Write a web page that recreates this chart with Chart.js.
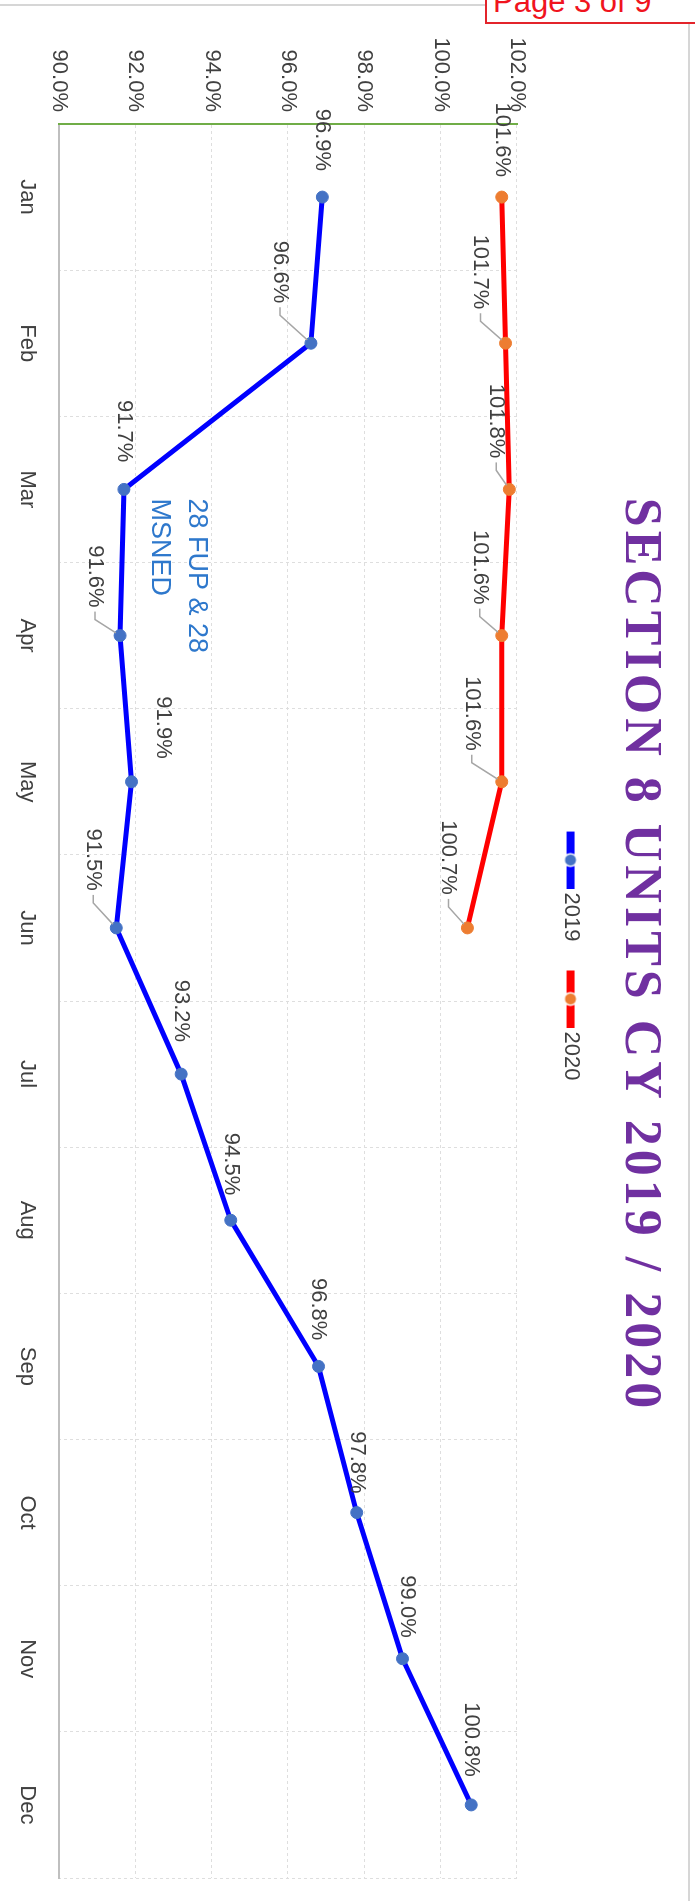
<!DOCTYPE html>
<html>
<head>
<meta charset="utf-8">
<title>Section 8 Units CY 2019 / 2020</title>
<script src="https://cdn.jsdelivr.net/npm/chart.js@4.4.1/dist/chart.umd.min.js"></script>
<style>
  html, body { margin: 0; padding: 0; background: #fff; }
  body { width: 695px; height: 1901px; position: relative; overflow: hidden; }
  /* the chart is laid out landscape and turned a quarter clockwise, like the scanned page */
  #turn { position: absolute; left: 0; top: 0; width: 1901px; height: 695px;
          transform-origin: 0 0; transform: translate(695px, 0) rotate(90deg); }
  #frameTop { position: absolute; left: 0; top: 4px; width: 690px; height: 2px; background: #d6d6d6; }
  #frameRight { position: absolute; left: 688px; top: 4px; width: 2px; height: 1897px; background: #d6d6d6; }
  #page { position: absolute; left: 485px; top: -20px; width: 240px; height: 40px;
          border: 2px solid #e3242b; background: #fff; color: #f0141e;
          font: 31px "Liberation Sans", Arial, sans-serif; line-height: 40px; padding-left: 6px; }
</style>
</head>
<body>
<div id="turn"><canvas id="chart" width="1901" height="695"></canvas></div>
<div id="frameTop"></div>
<div id="frameRight"></div>
<div id="page">Page 3 of 9</div>
<script>
var months = ['Jan', 'Feb', 'Mar', 'Apr', 'May', 'Jun', 'Jul', 'Aug', 'Sep', 'Oct', 'Nov', 'Dec'];
var seriesNames = ['2019', '2020'];
var rate2019 = [96.9, 96.6, 91.7, 91.6, 91.9, 91.5, 93.2, 94.5, 96.8, 97.8, 99.0, 100.8];
var rate2020 = [101.6, 101.7, 101.8, 101.6, 101.6, 100.7];
var valueTicks = [90, 92, 94, 96, 98, 100, 102];
var noteLines = ['28 FUP & 28', 'MSNED'];

// label placement: [px along months, px along %, leader line?] from each point
var labelPos2019 = [[-26, 0, 0], [-40, 31, 1], [-27, 0, 0], [-28, 25, 1], [-23, -32, 0], [-37, 23, 1],
                    [-32, 0, 0], [-25, 0, 0], [-26, 0, 0], [-19, 0, 0], [-21, -5, 0], [-28, 0, 0]];
var labelPos2020 = [[-20, 0, 0], [-34, 25, 1], [-31, 13, 1], [-31, 22, 1], [-31, 30, 1], [-33, 19, 1]];
var notePos = { month: 2, value: 93.6, dx: 9, gap: 37 };

var FONT = '"Liberation Sans", Arial, sans-serif';
Chart.defaults.font.family = FONT;
Chart.defaults.font.size = 22;
Chart.defaults.color = '#404040';

function legendMark(line, dot) {
    var c = document.createElement('canvas');
    c.width = 66;
    c.height = 16;
    var g = c.getContext('2d');
    g.fillStyle = line;
    g.fillRect(9, 4, 57, 8);
    g.fillStyle = '#fff';
    g.beginPath(); g.arc(37.5, 8, 7, 0, Math.PI * 2); g.fill();
    g.fillStyle = dot;
    g.beginPath(); g.arc(37.5, 8, 5.5, 0, Math.PI * 2); g.fill();
    return c;
}
var marks = [legendMark('#0000ff', '#4472c4'), legendMark('#ff0000', '#ed7d31')];

var spacedTitle = {
    id: 'spacedTitle',
    beforeDraw: function(chart) {
        var t = chart.titleBlock;
        if (t && !t._spaced) {
            var draw = t.draw;
            t.draw = function() {
                var c = this.ctx;
                c.save();
                c.letterSpacing = '4px';
                draw.apply(this, arguments);
                c.restore();
            };
            t._spaced = true;
        }
    }
};

var valueLabels = {
    id: 'valueLabels',
    afterDatasetsDraw: function(chart) {
        var ctx = chart.ctx;
        ctx.save();
        ctx.font = '22px ' + FONT;
        ctx.textAlign = 'right';
        ctx.textBaseline = 'middle';
        chart.data.datasets.forEach(function(ds, di) {
            var pos = di === 0 ? labelPos2019 : labelPos2020;
            chart.getDatasetMeta(di).data.forEach(function(pt, i) {
                var p = pos[i];
                var tx = pt.x + p[0], ty = pt.y + p[1];
                if (p[2]) {
                    var sx = tx + 12, dx = pt.x - sx, dy = pt.y - ty;
                    var len = Math.sqrt(dx * dx + dy * dy);
                    ctx.strokeStyle = '#a6a6a6';
                    ctx.lineWidth = 1.5;
                    ctx.beginPath();
                    ctx.moveTo(tx + 4, ty);
                    ctx.lineTo(sx, ty);
                    ctx.lineTo(pt.x - dx / len * 5, pt.y - dy / len * 5);
                    ctx.stroke();
                }
                ctx.fillStyle = '#404040';
                ctx.fillText(ds.data[i].toFixed(1) + '%', tx, ty);
            });
        });
        ctx.restore();
    }
};

var note = {
    id: 'note',
    afterDatasetsDraw: function(chart) {
        var ctx = chart.ctx;
        var x = chart.scales.x.getPixelForValue(notePos.month) + notePos.dx;
        var y = chart.scales.y.getPixelForValue(notePos.value);
        ctx.save();
        ctx.font = '27px ' + FONT;
        ctx.fillStyle = '#2e78cc';
        ctx.textAlign = 'left';
        ctx.textBaseline = 'middle';
        noteLines.forEach(function(t, i) {
            ctx.fillText(t, x, y + i * notePos.gap);
        });
        ctx.restore();
    }
};

var myChart = new Chart(document.getElementById('chart'), {
    type: 'line',
    data: {
        labels: months,
        datasets: [{
            label: seriesNames[0],
            data: rate2019,
            borderColor: '#0000ff',
            backgroundColor: '#4472c4',
            pointBackgroundColor: '#4472c4',
            pointBorderColor: '#4472c4',
            borderWidth: 5,
            pointRadius: 6,
            pointBorderWidth: 1,
            tension: 0
        }, {
            label: seriesNames[1],
            data: rate2020,
            borderColor: '#ff0000',
            backgroundColor: '#ed7d31',
            pointBackgroundColor: '#ed7d31',
            pointBorderColor: '#ed7d31',
            borderWidth: 5,
            pointRadius: 6,
            pointBorderWidth: 1,
            tension: 0
        }]
    },
    options: {
        responsive: false,
        animation: false,
        devicePixelRatio: 1,
        layout: { padding: { left: 32, right: 23, top: 0, bottom: 0 } },
        plugins: {
            title: {
                display: true,
                text: 'SECTION 8 UNITS CY 2019 / 2020',
                color: '#7030a0',
                font: { family: '"Liberation Serif", "Times New Roman", serif', size: 52, weight: 'bold', lineHeight: 1.2 },
                padding: { top: 24, bottom: 0 }
            },
            legend: {
                position: 'top',
                labels: {
                    usePointStyle: true,
                    pointStyleWidth: 52,
                    padding: 27,
                    color: '#404040',
                    font: { size: 22 },
                    generateLabels: function(chart) {
                        var items = Chart.defaults.plugins.legend.labels.generateLabels(chart);
                        items.forEach(function(it, i) { it.pointStyle = marks[i]; });
                        return items;
                    }
                }
            },
            subtitle: {
                display: true,
                text: '',
                weight: 500,
                font: { size: 1, lineHeight: 1 },
                padding: { top: 0, bottom: 31.6 }
            },
            tooltip: { enabled: false }
        },
        scales: {
            x: {
                offset: true,
                grid: { offset: true, color: '#dedede', lineWidth: 1, drawTicks: false },
                border: { color: '#bfbfbf', width: 2, dash: [3, 3] },
                ticks: { padding: 19, maxRotation: 0, autoSkip: false, color: '#404040' },
                afterFit: function(s) { s.height = 59; }
            },
            y: {
                min: valueTicks[0],
                max: valueTicks[valueTicks.length - 1],
                grid: { color: '#dedede', lineWidth: 1, drawTicks: false },
                border: { color: '#70ad47', width: 2, dash: [3, 3] },
                ticks: {
                    padding: 12,
                    color: '#404040',
                    callback: function(v) { return v.toFixed(1) + '%'; }
                },
                afterBuildTicks: function(s) {
                    s.ticks = valueTicks.map(function(v) { return { value: v }; });
                },
                afterFit: function(s) { s.width = 92; }
            }
        }
    },
    plugins: [spacedTitle, valueLabels, note]
});
</script>
</body>
</html>
